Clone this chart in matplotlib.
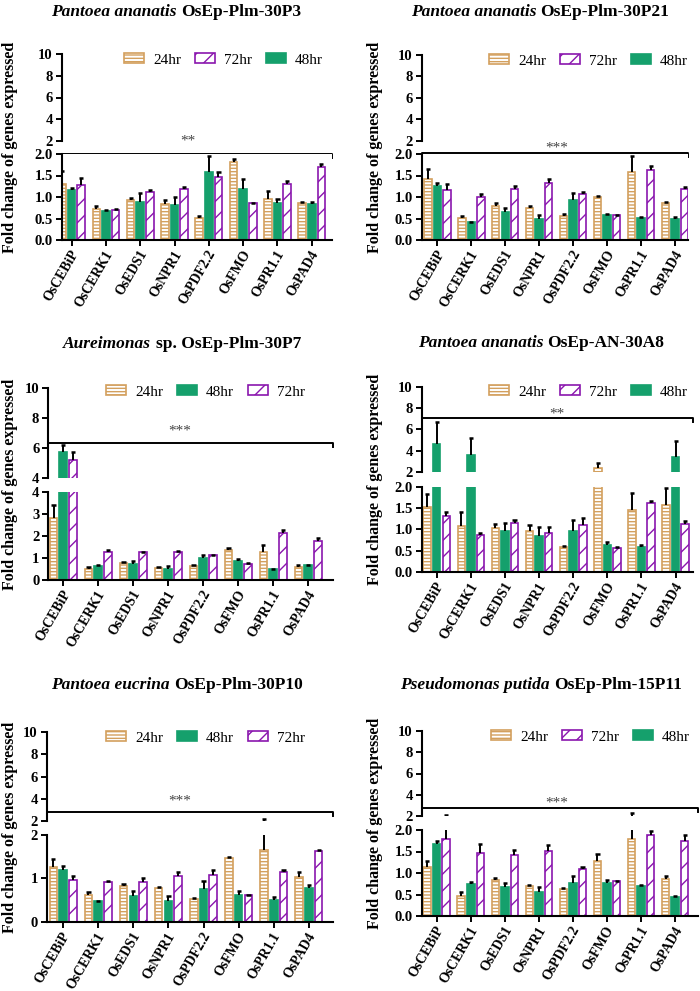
import matplotlib
matplotlib.use('Agg')
import matplotlib.pyplot as plt
import matplotlib.transforms as mtransforms
from matplotlib.patches import Patch
import numpy as np

plt.rcParams['font.family'] = 'Liberation Serif'
plt.rcParams['font.weight'] = 'bold'
plt.rcParams['hatch.linewidth'] = 1.0

genes = ['OsCEBiP', 'OsCERK1', 'OsEDS1', 'OsNPR1', 'OsPDF2.2', 'OsFMO', 'OsPR1.1', 'OsPAD4']

species = ['Pantoea ananatis', 'Pantoea ananatis', 'Aureimonas',
           'Pantoea ananatis', 'Pantoea eucrina', 'Pseudomonas putida']
strains = ['OsEp-Plm-30P3', 'OsEp-Plm-30P21', 'sp. OsEp-Plm-30P7',
           'OsEp-AN-30A8', 'OsEp-Plm-30P10', 'OsEp-Plm-15P11']
stars = ['**', '***', '***', '**', '***', '***']
legend_order = [['24hr', '72hr', '48hr'], ['24hr', '72hr', '48hr'], ['24hr', '48hr', '72hr'],
                ['24hr', '72hr', '48hr'], ['24hr', '48hr', '72hr'], ['24hr', '72hr', '48hr']]

# panel 1 - Pantoea ananatis OsEp-Plm-30P3
p1_24 = [1.30, 0.73, 0.93, 0.83, 0.52, 1.81, 0.96, 0.87]
p1_24_err = [0.30, 0.07, 0.05, 0.09, 0.03, 0.08, 0.17, 0.01]
p1_48 = [1.17, 0.67, 0.89, 0.81, 1.57, 1.18, 0.87, 0.84]
p1_48_err = [0.03, 0.03, 0.20, 0.20, 0.38, 0.24, 0.08, 0.04]
p1_72 = [1.29, 0.69, 1.11, 1.19, 1.47, 0.85, 1.30, 1.70]
p1_72_err = [0.15, 0.04, 0.06, 0.04, 0.12, 0.01, 0.08, 0.07]

# panel 2 - Pantoea ananatis OsEp-Plm-30P21
p2_24 = [1.43, 0.52, 0.80, 0.74, 0.56, 1.01, 1.57, 0.85]
p2_24_err = [0.21, 0.04, 0.05, 0.06, 0.04, 0.02, 0.38, 0.03]
p2_48 = [1.26, 0.42, 0.64, 0.49, 0.92, 0.59, 0.51, 0.48]
p2_48_err = [0.07, 0.01, 0.10, 0.10, 0.18, 0.01, 0.03, 0.06]
p2_72 = [1.16, 1.01, 1.18, 1.33, 1.06, 0.57, 1.63, 1.19]
p2_72_err = [0.15, 0.05, 0.08, 0.09, 0.06, 0.01, 0.08, 0.04]

# panel 3 - Aureimonas sp. OsEp-Plm-30P7
p3_24 = [2.82, 0.51, 0.78, 0.54, 0.65, 1.38, 1.28, 0.58]
p3_24_err = [0.56, 0.07, 0.05, 0.04, 0.04, 0.07, 0.32, 0.08]
p3_48 = [5.75, 0.62, 0.71, 0.49, 1.00, 0.86, 0.48, 0.66]
p3_48_err = [0.42, 0.04, 0.14, 0.13, 0.12, 0.09, 0.02, 0.02]
p3_72 = [5.19, 1.26, 1.25, 1.29, 1.11, 0.74, 2.12, 1.77]
p3_72_err = [0.56, 0.09, 0.03, 0.03, 0.04, 0.01, 0.16, 0.12]

# panel 4 - Pantoea ananatis OsEp-AN-30A8
p4_24 = [1.53, 1.09, 1.02, 0.95, 0.59, 2.38, 1.46, 1.56]
p4_24_err = [0.31, 0.31, 0.10, 0.15, 0.02, 0.52, 0.40, 0.42]
p4_48 = [4.62, 3.66, 0.95, 0.84, 0.95, 0.64, 0.58, 3.47]
p4_48_err = [2.08, 1.50, 0.21, 0.21, 0.27, 0.06, 0.06, 1.47]
p4_72 = [1.31, 0.87, 1.14, 0.92, 1.11, 0.57, 1.61, 1.13]
p4_72_err = [0.10, 0.05, 0.08, 0.14, 0.15, 0.01, 0.06, 0.07]

# panel 5 - Pantoea eucrina OsEp-Plm-30P10
p5_24 = [1.25, 0.62, 0.83, 0.79, 0.53, 1.46, 1.65, 1.02]
p5_24_err = [0.20, 0.06, 0.05, 0.02, 0.02, 0.04, 0.50, 0.13]
p5_48 = [1.20, 0.47, 0.60, 0.49, 0.76, 0.63, 0.50, 0.78]
p5_48_err = [0.08, 0.02, 0.11, 0.11, 0.17, 0.07, 0.08, 0.07]
p5_72 = [0.96, 0.92, 0.92, 1.05, 1.08, 0.61, 1.14, 1.62]
p5_72_err = [0.09, 0.01, 0.08, 0.10, 0.10, 0.01, 0.04, 0.02]

# panel 6 - Pseudomonas putida OsEp-Plm-15P11
p6_24 = [1.14, 0.46, 0.83, 0.69, 0.62, 1.28, 1.79, 0.86]
p6_24_err = [0.15, 0.09, 0.05, 0.02, 0.04, 0.17, 0.46, 0.06]
p6_48 = [1.67, 0.75, 0.67, 0.55, 0.76, 0.76, 0.69, 0.45]
p6_48_err = [0.08, 0.03, 0.10, 0.13, 0.16, 0.07, 0.03, 0.01]
p6_72 = [1.79, 1.47, 1.42, 1.52, 1.10, 0.81, 1.88, 1.74]
p6_72_err = [0.31, 0.20, 0.12, 0.13, 0.05, 0.01, 0.10, 0.15]

panel_data = [
    (p1_24, p1_24_err, p1_48, p1_48_err, p1_72, p1_72_err),
    (p2_24, p2_24_err, p2_48, p2_48_err, p2_72, p2_72_err),
    (p3_24, p3_24_err, p3_48, p3_48_err, p3_72, p3_72_err),
    (p4_24, p4_24_err, p4_48, p4_48_err, p4_72, p4_72_err),
    (p5_24, p5_24_err, p5_48, p5_48_err, p5_72, p5_72_err),
    (p6_24, p6_24_err, p6_48, p6_48_err, p6_72, p6_72_err),
]

# layout in pixels: left, right, upper top/bottom, lower top/bottom, xlim
layout = [
    dict(l=61.7, r=331.7, ut=54, ub=141, lt=154, lb=240, xlim=(-0.29, 7.58),
         uy=(2, 10), ly=(0, 2), lticks=[0, 0.5, 1, 1.5, 2], fmt='%.1f',
         leg=(323, 60), title=(176, 12), ylab=10.5, sig=0.85, sigx=0.468, sigoff=9),
    dict(l=421.7, r=688.3, ut=55, ub=141, lt=154, lb=240, xlim=(-0.46, 7.39),
         uy=(2, 10), ly=(0, 2), lticks=[0, 0.5, 1, 1.5, 2], fmt='%.1f',
         leg=(688, 61), title=(540, 12), ylab=375, sig=0.9, sigx=0.506, sigoff=1),
    dict(l=48.3, r=333, ut=388, ub=477.7, lt=491.7, lb=580, xlim=(-0.43, 7.71),
         uy=(4, 10), ly=(0, 4), lticks=[0, 1, 2, 3, 4], fmt='%d',
         leg=(305, 392), title=(182, 344), ylab=10.5, sig=6.34, sigx=0.463, sigoff=8),
    dict(l=421.7, r=693.3, ut=386.7, ub=472.3, lt=486.7, lb=572, xlim=(-0.44, 7.52),
         uy=(2, 10), ly=(0, 2), lticks=[0, 0.5, 1, 1.5, 2], fmt='%.1f',
         leg=(688, 392), title=(541, 343), ylab=375, sig=7.05, sigx=0.497, sigoff=1),
    dict(l=46.7, r=333, ut=732, ub=821, lt=834.7, lb=922, xlim=(-0.47, 7.69),
         uy=(2, 10), ly=(0, 2), lticks=[0, 1, 2], fmt='%d',
         leg=(305, 738), title=(177, 685), ylab=10.5, sig=2.84, sigx=0.466, sigoff=7),
    dict(l=421.7, r=698, ut=731, ub=816, lt=830, lb=916, xlim=(-0.44, 7.67),
         uy=(2, 10), ly=(0, 2), lticks=[0, 0.5, 1, 1.5, 2], fmt='%.1f',
         leg=(690, 737), title=(541, 685), ylab=375, sig=2.8, sigx=0.489, sigoff=1),
]

TAN = '#D3A05E'
GREEN = '#15A06C'
PURPLE = '#8A16AE'
styles = {
    '24hr': dict(facecolor='white', edgecolor=TAN, hatch='-----'),
    '48hr': dict(facecolor=GREEN, edgecolor=GREEN, hatch=None),
    '72hr': dict(facecolor='white', edgecolor=PURPLE, hatch='//'),
}

W, H = 700, 991
fig = plt.figure(figsize=(7, 9.91), dpi=100)


def px_axes(l, r, t, b):
    return fig.add_axes([l / W, 1 - b / H, (r - l) / W, (b - t) / H])


x = np.arange(len(genes))
offsets = {'24hr': -0.28, '48hr': 0.0, '72hr': 0.28}
bw = 0.22
cap = 0.06

renderer = fig.canvas.get_renderer()
label_shift = mtransforms.ScaledTranslation(4 / 100, -1 / 100, fig.dpi_scale_trans)

for i, (lay, data) in enumerate(zip(layout, panel_data)):
    ax_u = px_axes(lay['l'], lay['r'], lay['ut'], lay['ub'])
    ax_l = px_axes(lay['l'], lay['r'], lay['lt'], lay['lb'])
    series = {'24hr': (data[0], data[1]), '48hr': (data[2], data[3]), '72hr': (data[4], data[5])}

    for ax, ymin in ((ax_u, lay['uy'][0]), (ax_l, lay['ly'][0])):
        for h, (vals, errs) in series.items():
            vals = np.array(vals)
            errs = np.array(errs)
            xs = x + offsets[h]
            ax.bar(xs, vals, bw, linewidth=1.2, zorder=2, **styles[h])
            tops = vals + errs
            keep = tops >= ymin
            ax.vlines(xs[keep], vals[keep], tops[keep], color='black', linewidth=1.4, zorder=3)
            ax.hlines(tops[keep], xs[keep] - cap, xs[keep] + cap, color='black',
                      linewidth=1.8, zorder=3)
        ax.set_xlim(*lay['xlim'])
        ax.spines['top'].set_visible(False)
        ax.spines['right'].set_visible(False)
        ax.spines['left'].set_linewidth(1.5)
        ax.spines['bottom'].set_linewidth(1.5)
        ax.tick_params(axis='y', width=1.4, length=4, labelsize=10.5, pad=2.5)
        ax.tick_params(axis='x', width=1.4, length=4)

    ax_u.set_ylim(*lay['uy'])
    ax_u.set_yticks(np.arange(lay['uy'][0], lay['uy'][1] + 1, 2))
    ax_u.spines['bottom'].set_visible(False)
    ax_u.set_xticks([])

    ax_l.set_ylim(*lay['ly'])
    ax_l.set_yticks(lay['lticks'])
    ax_l.set_yticklabels([lay['fmt'] % v for v in lay['lticks']])
    ax_l.set_xticks(x)
    ax_l.set_xticklabels(genes, rotation=60, ha='right', va='center',
                         rotation_mode='anchor', fontsize=10)
    for lab in ax_l.get_xticklabels():
        lab.set_transform(lab.get_transform() + label_shift)

    # significance bracket
    tr = mtransforms.blended_transform_factory(ax_u.transAxes, ax_u.transData)
    y0 = lay['sig']
    drop = (lay['uy'][1] - lay['uy'][0]) * 4.0 / (lay['ub'] - lay['ut'])
    ax_u.plot([0.0, 0.0, 1.0, 1.0], [y0 - drop, y0, y0, y0 - drop], color='black',
              lw=1.4, transform=tr, clip_on=False, zorder=4)
    ax_u.annotate(stars[i], xy=(lay['sigx'], y0), xycoords=tr, xytext=(0, lay['sigoff']),
                  textcoords='offset pixels', ha='center', va='baseline',
                  fontsize=11, fontweight='normal', color='#444444')

    # legend
    handles = [Patch(linewidth=1.2, **styles[h]) for h in legend_order[i]]
    ax_u.legend(handles, legend_order[i], ncol=3, loc='center right',
                bbox_to_anchor=(lay['leg'][0] / W, 1 - lay['leg'][1] / H),
                bbox_transform=fig.transFigure, frameon=False,
                handlelength=1.3, handleheight=0.65, handletextpad=0.6,
                columnspacing=0.9, borderpad=0, borderaxespad=0,
                prop={'size': 11, 'weight': 'normal'})

    # y label
    fig.text(lay['ylab'] / W, 1 - (lay['ut'] + lay['lb']) / 2 / H,
             'Fold change of genes expressed', rotation=90, ha='center', va='center',
             fontsize=11.5, fontweight='bold')

    # title with italic species name
    tx, ty = lay['title']
    t1 = fig.text(0, 1 - ty / H, species[i] + ' ', fontsize=12.5, fontweight='bold',
                  style='italic', va='center', ha='left')
    t2 = fig.text(0, 1 - ty / H, strains[i], fontsize=12.5, fontweight='bold',
                  va='center', ha='left')
    w1 = t1.get_window_extent(renderer).width
    w2 = t2.get_window_extent(renderer).width
    start = tx - (w1 + w2) / 2
    t1.set_x(start / W)
    t2.set_x((start + w1) / W)

fig.savefig('out.png', dpi=100)
